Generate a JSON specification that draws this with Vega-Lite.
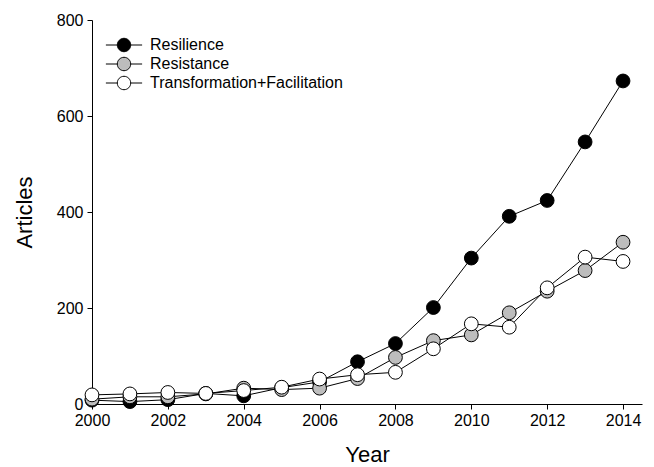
{
  "$schema": "https://vega.github.io/schema/vega-lite/v6.json",
  "width": 550,
  "height": 384,
  "autosize": "none",
  "padding": {"left": 92, "top": 20, "right": 12, "bottom": 63},
  "background": "white",
  "config": {
    "view": {"stroke": null},
    "font": "Liberation Sans",
    "axis": {
      "grid": false,
      "domainColor": "black",
      "domainWidth": 1,
      "tickColor": "black",
      "tickWidth": 1,
      "tickSize": 5,
      "labelColor": "black",
      "labelFont": "Liberation Sans",
      "labelFontSize": 16,
      "titleFont": "Liberation Sans",
      "titleFontSize": 22,
      "titleFontWeight": "normal",
      "titleColor": "black"
    }
  },
  "data": {
    "values": [
      {"Year": 2000, "series": "Resilience", "Articles": 8},
      {"Year": 2001, "series": "Resilience", "Articles": 5},
      {"Year": 2002, "series": "Resilience", "Articles": 9},
      {"Year": 2003, "series": "Resilience", "Articles": 22},
      {"Year": 2004, "series": "Resilience", "Articles": 17},
      {"Year": 2005, "series": "Resilience", "Articles": 34},
      {"Year": 2006, "series": "Resilience", "Articles": 46},
      {"Year": 2007, "series": "Resilience", "Articles": 88},
      {"Year": 2008, "series": "Resilience", "Articles": 126},
      {"Year": 2009, "series": "Resilience", "Articles": 201},
      {"Year": 2010, "series": "Resilience", "Articles": 304},
      {"Year": 2011, "series": "Resilience", "Articles": 391},
      {"Year": 2012, "series": "Resilience", "Articles": 424},
      {"Year": 2013, "series": "Resilience", "Articles": 546},
      {"Year": 2014, "series": "Resilience", "Articles": 673},
      {"Year": 2000, "series": "Resistance", "Articles": 10},
      {"Year": 2001, "series": "Resistance", "Articles": 15},
      {"Year": 2002, "series": "Resistance", "Articles": 15},
      {"Year": 2003, "series": "Resistance", "Articles": 21},
      {"Year": 2004, "series": "Resistance", "Articles": 33},
      {"Year": 2005, "series": "Resistance", "Articles": 30},
      {"Year": 2006, "series": "Resistance", "Articles": 33},
      {"Year": 2007, "series": "Resistance", "Articles": 53},
      {"Year": 2008, "series": "Resistance", "Articles": 97},
      {"Year": 2009, "series": "Resistance", "Articles": 132},
      {"Year": 2010, "series": "Resistance", "Articles": 144},
      {"Year": 2011, "series": "Resistance", "Articles": 190},
      {"Year": 2012, "series": "Resistance", "Articles": 235},
      {"Year": 2013, "series": "Resistance", "Articles": 278},
      {"Year": 2014, "series": "Resistance", "Articles": 337},
      {"Year": 2000, "series": "Transformation+Facilitation", "Articles": 19},
      {"Year": 2001, "series": "Transformation+Facilitation", "Articles": 21},
      {"Year": 2002, "series": "Transformation+Facilitation", "Articles": 24},
      {"Year": 2003, "series": "Transformation+Facilitation", "Articles": 22},
      {"Year": 2004, "series": "Transformation+Facilitation", "Articles": 28},
      {"Year": 2005, "series": "Transformation+Facilitation", "Articles": 35},
      {"Year": 2006, "series": "Transformation+Facilitation", "Articles": 52},
      {"Year": 2007, "series": "Transformation+Facilitation", "Articles": 61},
      {"Year": 2008, "series": "Transformation+Facilitation", "Articles": 66},
      {"Year": 2009, "series": "Transformation+Facilitation", "Articles": 115},
      {"Year": 2010, "series": "Transformation+Facilitation", "Articles": 167},
      {"Year": 2011, "series": "Transformation+Facilitation", "Articles": 160},
      {"Year": 2012, "series": "Transformation+Facilitation", "Articles": 242},
      {"Year": 2013, "series": "Transformation+Facilitation", "Articles": 306},
      {"Year": 2014, "series": "Transformation+Facilitation", "Articles": 297}
    ]
  },
  "encoding": {
    "x": {
      "field": "Year",
      "type": "quantitative",
      "scale": {"domain": [2000, 2014.5], "nice": false, "zero": false},
      "axis": {"values": [2000, 2002, 2004, 2006, 2008, 2010, 2012, 2014], "format": "d", "labelPadding": 3, "titlePadding": 16, "labelFlush": false}
    },
    "y": {
      "field": "Articles",
      "type": "quantitative",
      "scale": {"domain": [0, 800], "nice": false},
      "axis": {"values": [0, 200, 400, 600, 800], "labelPadding": 4, "titlePadding": 20}
    }
  },
  "layer": [
    {
      "mark": {"type": "line", "color": "black", "strokeWidth": 1},
      "encoding": {"detail": {"field": "series"}}
    },
    {
      "mark": {"type": "point", "filled": true, "stroke": "black", "strokeWidth": 1, "size": 190, "shape": "circle", "opacity": 1},
      "encoding": {
        "fill": {
          "field": "series",
          "type": "nominal",
          "scale": {"domain": ["Resilience", "Resistance", "Transformation+Facilitation"], "range": ["black", "#bdbdbd", "white"]},
          "legend": {
            "title": null,
            "orient": "none",
            "legendX": 24,
            "legendY": 17,
            "symbolType": "M-2.7,0H-1M1,0H2.7M-1,0A1,1 0 1,0 1,0A1,1 0 1,0 -1,0Z",
            "symbolSize": 180,
            "symbolStrokeColor": "black",
            "symbolStrokeWidth": 1,
            "symbolOpacity": 1,
            "labelFont": "Liberation Sans",
            "labelFontSize": 16,
            "labelColor": "black",
            "labelLimit": 0,
            "labelOffset": 18,
            "rowPadding": 1
          }
        }
      }
    }
  ]
}
